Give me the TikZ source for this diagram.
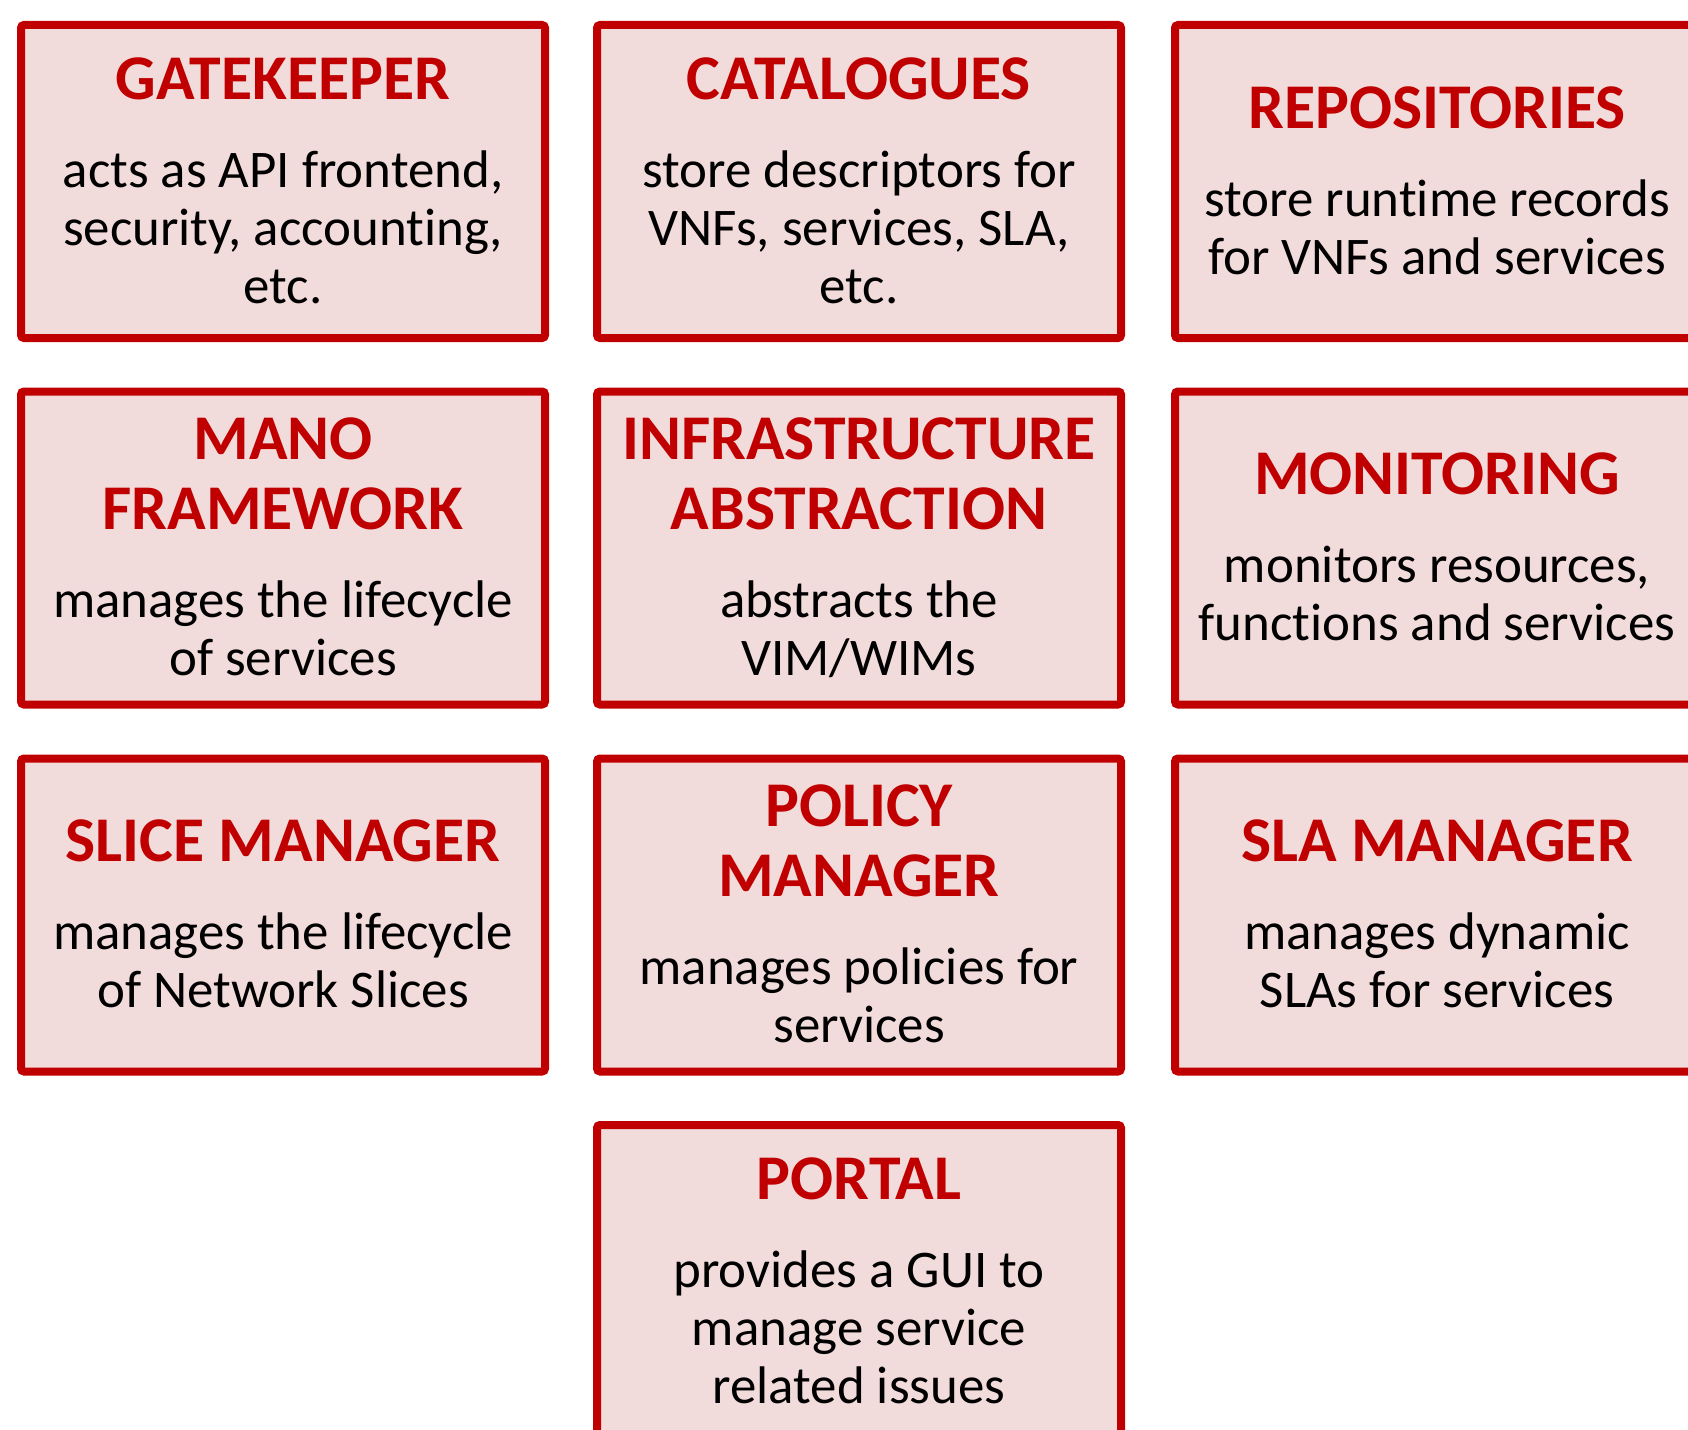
\documentclass[tikz,border=0pt]{standalone}
\usepackage{fontspec}
\setmainfont{Carlito}[Ligatures={NoCommon}]
\definecolor{brd}{HTML}{C00000}
\definecolor{fil}{HTML}{F2DCDB}
\tikzset{
  x=1pt, y=-1pt,
  cardbox/.style={draw=brd, fill=fil, line width=8pt, rounded corners=3pt,
    minimum width=524pt, minimum height=313pt, inner sep=0pt, outer sep=0pt},
  ttl/.style={anchor=base, inner sep=0pt, text=brd,
    font=\fontsize{63.7}{70}\selectfont\bfseries},
  bdy/.style={anchor=base, inner sep=0pt, text=black,
    font=\fontsize{52.9}{58}\selectfont}
}
\begin{document}
\begin{tikzpicture}
\useasboundingbox (0,0) rectangle (1688,1429);
% boxes
\node[cardbox] (gk) at (283,181.5) {};
\node[cardbox] (cat) at (859,181.5) {};
\node[cardbox] (rep) at (1437,181.5) {};
\node[cardbox] (mano) at (283,548) {};
\node[cardbox] (ia) at (859,548) {};
\node[cardbox] (mon) at (1437,548) {};
\node[cardbox] (slice) at (283,915) {};
\node[cardbox] (pol) at (859,915) {};
\node[cardbox] (sla) at (1437,915) {};
\node[cardbox] (por) at (859,1281.5) {};
% GATEKEEPER
\node[ttl] (gk-t) at (283,99) {GATEKEEPER};
\node[bdy] (gk-b1) at (283,187) {acts as API frontend,};
\node[bdy] (gk-b2) at (283,245) {security, accounting,};
\node[bdy] (gk-b3) at (283,303) {etc.};
% CATALOGUES
\node[ttl] (cat-t) at (859,99) {CATALOGUES};
\node[bdy] (cat-b1) at (859,187) {store descriptors for};
\node[bdy] (cat-b2) at (859,245) {VNFs, services, SLA,};
\node[bdy] (cat-b3) at (859,303) {etc.};
% REPOSITORIES
\node[ttl] (rep-t) at (1437,128) {REPOSITORIES};
\node[bdy] (rep-b1) at (1437,216) {store runtime records};
\node[bdy] (rep-b2) at (1437,274) {for VNFs and services};
% MANO
\node[ttl] (mano-t1) at (283,459.5) {MANO};
\node[ttl] (mano-t2) at (283,529.5) {FRAMEWORK};
\node[bdy] (mano-b1) at (283,617.5) {manages the lifecycle};
\node[bdy] (mano-b2) at (283,675.5) {of services};
% INFRASTRUCTURE
\node[ttl] (ia-t1) at (859,459.5) {INFRASTRUCTURE};
\node[ttl] (ia-t2) at (859,529.5) {ABSTRACTION};
\node[bdy] (ia-b1) at (859,617.5) {abstracts the};
\node[bdy] (ia-b2) at (859,675.5) {VIM/WIMs};
% MONITORING
\node[ttl] (mon-t) at (1437,494.5) {MONITORING};
\node[bdy] (mon-b1) at (1437,582.5) {monitors resources,};
\node[bdy] (mon-b2) at (1437,640.5) {functions and services};
% SLICE MANAGER
\node[ttl] (slice-t) at (283,861.5) {SLICE MANAGER};
\node[bdy] (slice-b1) at (283,949.5) {manages the lifecycle};
\node[bdy] (slice-b2) at (283,1007.5) {of Network Slices};
% POLICY MANAGER
\node[ttl] (pol-t1) at (859,826.5) {POLICY};
\node[ttl] (pol-t2) at (859,896.5) {MANAGER};
\node[bdy] (pol-b1) at (859,984.5) {manages policies for};
\node[bdy] (pol-b2) at (859,1042.5) {services};
% SLA MANAGER
\node[ttl] (sla-t) at (1437,861.5) {SLA MANAGER};
\node[bdy] (sla-b1) at (1437,949.5) {manages dynamic};
\node[bdy] (sla-b2) at (1437,1007.5) {SLAs for services};
% PORTAL
\node[ttl] (por-t) at (859,1199) {PORTAL};
\node[bdy] (por-b1) at (859,1287) {provides a GUI to};
\node[bdy] (por-b2) at (859,1345) {manage service};
\node[bdy] (por-b3) at (859,1403) {related issues};
\end{tikzpicture}
\end{document}
